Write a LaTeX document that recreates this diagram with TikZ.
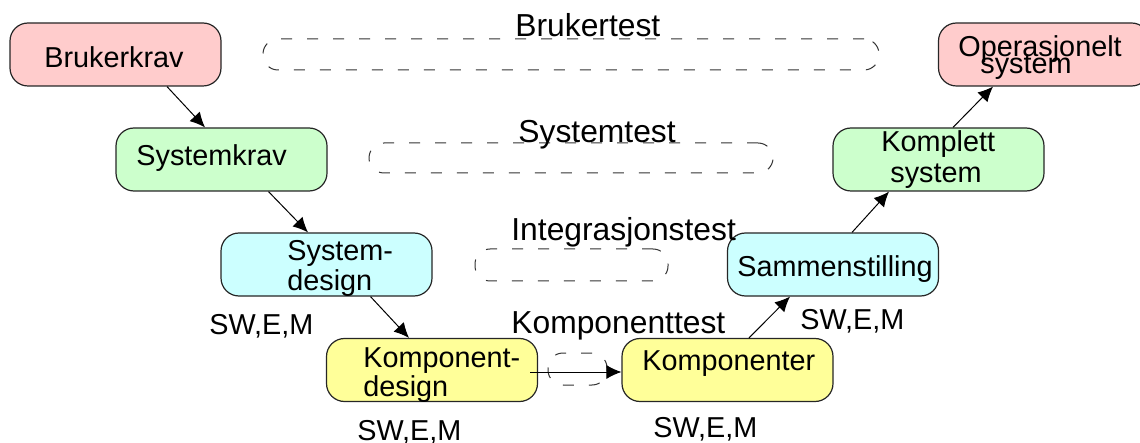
\documentclass[tikz,border=0pt]{standalone}
\usepackage{fontspec}
\setmainfont{Liberation Sans}
\usetikzlibrary{arrows.meta,calc}
\definecolor{reqpink}{HTML}{FFCCCC}
\definecolor{sysgreen}{HTML}{CCFFCC}
\definecolor{designcyan}{HTML}{CCFFFF}
\definecolor{partyellow}{HTML}{FFFF99}
\begin{document}
\begin{tikzpicture}[x=0.5pt,y=-0.5pt,
  stage/.style={draw=black!85, line width=0.6pt, rounded corners=9pt,
    minimum width=105.5pt, minimum height=31.5pt, inner sep=0pt},
  txt/.style={anchor=base west, inner sep=0pt, font=\fontsize{14.4}{16}\selectfont},
  testtxt/.style={anchor=base west, inner sep=0pt, font=\fontsize{15.9}{18}\selectfont},
  testloop/.style={draw=black!80, line width=0.5pt, dash pattern=on 5.5pt off 7.5pt,
    rounded corners=7.5pt, inner sep=0pt},
  flow/.style={-{Latex[length=7.5pt,width=7pt]}, line width=0.5pt}]
\useasboundingbox (0,0) rectangle (1140,443);
\clip (0,0) rectangle (1140,443);

% left leg: requirements and design
\node[stage, fill=reqpink]    (brukerkrav)   at (115.5,54.5) {};
\node[stage, fill=sysgreen]   (systemkrav)   at (221.5,159.5) {};
\node[stage, fill=designcyan] (systemdesign) at (326.5,264.5) {};
\node[stage, fill=partyellow] (kompdesign)   at (432,370) {};

% right leg: build-up and integration
\node[stage, fill=partyellow] (komponenter)  at (727.5,370) {};
\node[stage, fill=designcyan] (sammen)       at (833,264.5) {};
\node[stage, fill=sysgreen]   (komplett)     at (938.5,159.5) {};
\node[stage, fill=reqpink]    (operasjonelt) at (1044,54.5) {};

% box texts
\node[txt] (tBrukerkrav) at (44,68)  {Brukerkrav};
\node[txt] (tSystemkrav) at (136,166) {Systemkrav};
\node[txt] (tSysA) at (287,261) {System-};
\node[txt] (tSysB) at (287,291) {design};
\node[txt] (tKompA) at (363,367) {Komponent-};
\node[txt] (tKompB) at (363,396) {design};
\node[txt] (tKomponenter) at (642,370) {Komponenter};
\node[txt] (tSammen) at (737,277) {Sammenstilling};
\node[txt] (tKomplA) at (881,152) {Komplett};
\node[txt] (tKomplB) at (890,183) {system};
\node[txt] (tOpA) at (958,57) {Operasjonelt};
\node[txt] (tOpB) at (980,74) {system};

% test loops between the two legs
\node[testloop, minimum width=308pt, minimum height=15.5pt] (brukertest)  at (571,54.5) {};
\node[testloop, minimum width=202pt, minimum height=15pt]   (systemtest)  at (571,158) {};
\node[testloop, minimum width=96.5pt, minimum height=16pt]  (integrtest)  at (571.5,265) {};
\node[testloop, minimum width=29.5pt, minimum height=16pt]  (komptest)    at (577.5,369) {};
\node[testtxt] (tBrukertest) at (515,37)  {Brukertest};
\node[testtxt] (tSystemtest) at (518,143) {Systemtest};
\node[testtxt] (tIntegr)     at (511,241) {Integrasjonstest};
\node[testtxt] (tKomptest)   at (511,333) {Komponenttest};

% discipline labels
\node[txt] (swA) at (209,334) {SW,E,M};
\node[txt] (swB) at (357,440) {SW,E,M};
\node[txt] (swC) at (653,437) {SW,E,M};
\node[txt] (swD) at (800,329) {SW,E,M};

% flow of the V
\draw[flow] ($(brukerkrav.south)+(51.5,0)$) -- ($(systemkrav.north)+(-16.5,0)$);
\draw[flow] ($(systemkrav.south)+(47,0)$) -- ($(systemdesign.north)+(-18.5,0)$);
\draw[flow] ($(systemdesign.south)+(44,0)$) -- ($(kompdesign.north)+(-23,0)$);
\draw[flow] ($(kompdesign.east)+(-8,2)$) -- ($(komponenter.west)+(0,2)$);
\draw[flow] ($(komponenter.north)+(21.5,0)$) -- ($(sammen.south)+(-43,0)$);
\draw[flow] ($(sammen.north)+(19,0)$) -- ($(komplett.south)+(-49.5,0)$);
\draw[flow] ($(komplett.north)+(14.5,0)$) -- ($(operasjonelt.south)+(-51,0)$);
\end{tikzpicture}
\end{document}
